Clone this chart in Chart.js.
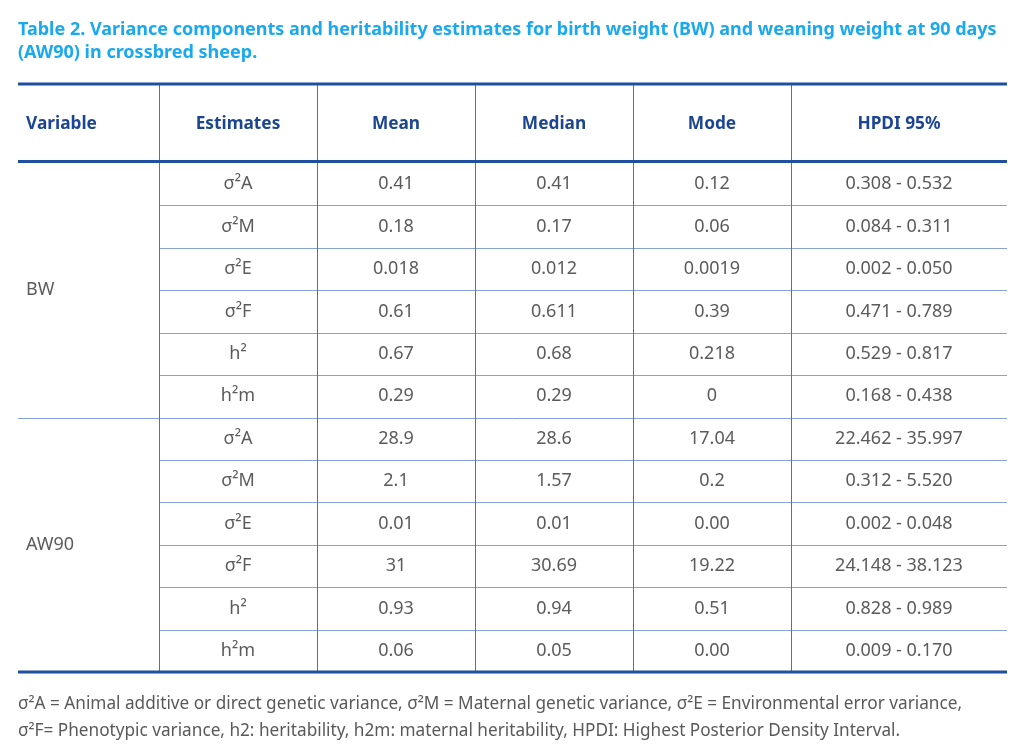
<!DOCTYPE html>
<html>
<head>
<meta charset="utf-8">
<script src="https://cdn.jsdelivr.net/npm/chart.js@4.4.1/dist/chart.umd.min.js"></script>
<style>
  html, body { margin: 0; padding: 0; background: #fff; }
  #wrap { position: relative; width: 1024px; height: 753px; overflow: hidden; }
  #tbl { position: absolute; left: 0; top: 0; }
  .title { position: absolute; left: 18px; top: 17px; width: 1006px; font-family: 'Noto Sans', sans-serif;
           font-weight: 700; font-size: 18px; line-height: 23px; color: #1aa9ec; white-space: nowrap; }
  .note { position: absolute; left: 18px; top: 689px; width: 1006px; font-family: 'Noto Sans', sans-serif;
          font-size: 17.2px; line-height: 27px; color: #595959; white-space: nowrap; }
</style>
</head>
<body>
<div id="wrap">
  <canvas id="tbl" width="1024" height="753"></canvas>
  <div class="title">Table 2. Variance components and heritability estimates for birth weight (BW) and weaning weight at 90 days<br>(AW90) in crossbred sheep.</div>
  <div class="note">σ²A = Animal additive or direct genetic variance, σ²M = Maternal genetic variance, σ²E = Environmental error variance,<br>σ²F= Phenotypic variance, h2: heritability, h2m: maternal heritability, HPDI: Highest Posterior Density Interval.</div>
</div>
<script>
// ---- 数据 ----
const columns = ['Variable', 'Estimates', 'Mean', 'Median', 'Mode', 'HPDI 95%'];
const groups = ['BW', 'AW90'];
const estimates = ['σ²A', 'σ²M', 'σ²E', 'σ²F', 'h²', 'h²m'];

const bwMean   = ['0.41', '0.18', '0.018', '0.61', '0.67', '0.29'];
const bwMedian = ['0.41', '0.17', '0.012', '0.611', '0.68', '0.29'];
const bwMode   = ['0.12', '0.06', '0.0019', '0.39', '0.218', '0'];
const bwHpdi   = ['0.308 - 0.532', '0.084 - 0.311', '0.002 - 0.050', '0.471 - 0.789', '0.529 - 0.817', '0.168 - 0.438'];

const awMean   = ['28.9', '2.1', '0.01', '31', '0.93', '0.06'];
const awMedian = ['28.6', '1.57', '0.01', '30.69', '0.94', '0.05'];
const awMode   = ['17.04', '0.2', '0.00', '19.22', '0.51', '0.00'];
const awHpdi   = ['22.462 - 35.997', '0.312 - 5.520', '0.002 - 0.048', '24.148 - 38.123', '0.828 - 0.989', '0.009 - 0.170'];

// ---- 版式 ----
const colEdges = [0, 141, 299, 457, 615, 773, 989]; // 列边界(x轴单位)
const headerH = 79;
const C = {
  thick: '#1f4f9f', vline: '#6e6e6e', hline: '#86a3d3',
  head: '#1c4594', body: '#5b5b5b'
};
const FONT = "'Noto Sans', sans-serif";

const rowKeys = [];
const cellRows = [];
groups.forEach((g, gi) => {
  const cols = gi === 0 ? [bwMean, bwMedian, bwMode, bwHpdi] : [awMean, awMedian, awMode, awHpdi];
  estimates.forEach((e, i) => {
    rowKeys.push(g + ' ' + e);
    cellRows.push([e].concat(cols.map(c => c[i])));
  });
});

const tablePlugin = {
  id: 'tablePlugin',
  afterDraw(chart) {
    const { ctx, chartArea: a, scales: { x, y } } = chart;
    const px = v => x.getPixelForValue(v);
    const rowTop = i => i === 0 ? a.top : (y.getPixelForValue(i - 1) + y.getPixelForValue(i)) / 2;
    const rowBot = i => i === rowKeys.length - 1 ? a.bottom : (y.getPixelForValue(i) + y.getPixelForValue(i + 1)) / 2;
    const L = px(colEdges[0]), R = px(colEdges[colEdges.length - 1]);
    const hTop = a.top - headerH;

    ctx.save();
    // 行线
    ctx.lineWidth = 1;
    ctx.strokeStyle = C.hline;
    for (let i = 0; i < rowKeys.length - 1; i++) {
      const yy = Math.round(rowBot(i)) + 0.5;
      const groupEnd = (i + 1) % estimates.length === 0;
      ctx.beginPath();
      ctx.moveTo(groupEnd ? L : px(colEdges[1]), yy);
      ctx.lineTo(R, yy);
      ctx.stroke();
    }
    // 竖线
    ctx.strokeStyle = C.vline;
    for (let c = 1; c < colEdges.length - 1; c++) {
      const xx = Math.round(px(colEdges[c])) + 0.5;
      ctx.beginPath();
      ctx.moveTo(xx, hTop);
      ctx.lineTo(xx, a.bottom);
      ctx.stroke();
    }
    // 粗线
    ctx.strokeStyle = C.thick;
    ctx.lineWidth = 3;
    [hTop, a.top - 1.5, a.bottom].forEach(yy => {
      ctx.beginPath();
      ctx.moveTo(L, yy);
      ctx.lineTo(R, yy);
      ctx.stroke();
    });

    // 表头
    ctx.textBaseline = 'middle';
    ctx.fillStyle = C.head;
    ctx.font = 'bold 17.3px ' + FONT;
    const hy = hTop + headerH / 2 + 1;
    columns.forEach((t, c) => {
      if (c === 0) { ctx.textAlign = 'left'; ctx.fillText(t, px(colEdges[0]) + 8, hy); }
      else { ctx.textAlign = 'center'; ctx.fillText(t, px((colEdges[c] + colEdges[c + 1]) / 2), hy); }
    });

    // 单元格
    ctx.fillStyle = C.body;
    ctx.font = '18px ' + FONT;
    ctx.textAlign = 'center';
    cellRows.forEach((cells, i) => {
      const yy = y.getPixelForValue(i);
      cells.forEach((t, k) => {
        ctx.fillText(t, px((colEdges[k + 1] + colEdges[k + 2]) / 2), yy);
      });
    });
    // 分组名
    ctx.textAlign = 'left';
    groups.forEach((g, gi) => {
      const t = rowTop(gi * estimates.length), b = rowBot((gi + 1) * estimates.length - 1);
      ctx.fillText(g, px(colEdges[0]) + 8, (t + b) / 2);
    });
    ctx.restore();
  }
};

new Chart(document.getElementById('tbl'), {
  type: 'scatter',
  data: { datasets: [] },
  options: {
    responsive: false,
    animation: false,
    events: [],
    layout: { padding: { left: 18, right: 17, top: 163, bottom: 81 } },
    plugins: { legend: { display: false }, tooltip: { enabled: false } },
    scales: {
      x: { type: 'linear', min: colEdges[0], max: colEdges[colEdges.length - 1], display: false },
      y: { type: 'category', labels: rowKeys, offset: true, display: false }
    }
  },
  plugins: [tablePlugin]
});
</script>
</body>
</html>
